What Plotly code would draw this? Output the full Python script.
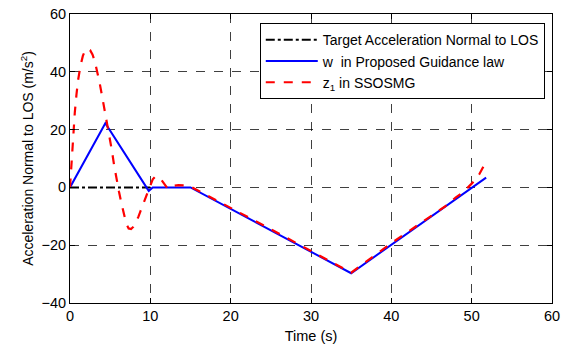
import plotly.graph_objects as go

# Target acceleration
t_target = [0, 10]
a_target = [0, 0]

# w in Proposed Guidance law
t_w = [0, 4.4, 9.8, 10.3, 15, 35, 51.8]
a_w = [0, 22.2, -1.2, 0, 0, -29.7, 3.4]

# z1 in SSOSMG
t_z = [0, 0.2, 0.4, 0.6, 0.8, 1.0, 1.3, 1.6, 1.9, 2.2, 2.5, 2.8, 3.1, 3.4, 3.7, 4.0, 4.3, 4.6,
       4.9, 5.2, 5.5, 5.8, 6.1, 6.4, 6.7, 7.0, 7.3, 7.6, 7.9, 8.2, 8.5, 8.8, 9.1, 9.4, 9.7,
       10.0, 10.3, 10.6, 10.9, 11.2, 11.5, 11.8, 12.1, 12.4, 12.7, 13.0, 13.5, 14.5, 15,
       20, 25, 30, 35, 40, 45, 47, 48, 49, 50, 50.5, 51, 51.5, 51.8]
a_z = [0, 10, 19, 26, 32, 37, 42, 45.5, 47.5, 48, 47.5, 46, 43.5, 40, 36, 31.5, 27, 22.5,
       18, 13, 7.5, 2.5, -1.5, -5.5, -9.5, -12.5, -14.2, -14.4, -13.6, -12.2, -10.3, -8, -5.8, -3.5, -1.2,
       1, 2.8, 3.7, 3.8, 3.3, 2.2, 0.9, -0.2, -0.5, 0.1, 0.6, 0.8, 0.7, 0.3,
       -7, -14.5, -22, -29.5, -19.3, -10, -6, -3.5, -1.5, 1.3, 2.8, 4.8, 7.2, 9]

x_ticks = [0, 10, 20, 30, 40, 50, 60]
y_ticks = [-40, -20, 0, 20, 40, 60]

FONT = "Liberation Sans, Arial, sans-serif"

fig = go.Figure()
fig.add_trace(go.Scatter(x=t_target, y=a_target, mode="lines",
                         name="Target Acceleration Normal to LOS",
                         line=dict(color="black", width=2, dash="dashdot")))
fig.add_trace(go.Scatter(x=t_w, y=a_w, mode="lines",
                         name="w  in Proposed Guidance law",
                         line=dict(color="#0000ff", width=2)))
fig.add_trace(go.Scatter(x=t_z, y=a_z, mode="lines",
                         name="z<sub>1</sub> in SSOSMG",
                         line=dict(color="#ff0000", width=2.2, dash="dash")))

axis_common = dict(showline=True, linecolor="black", linewidth=1, mirror="ticks",
                   ticks="inside", ticklen=5, tickcolor="black", automargin=False,
                   showgrid=True, gridcolor="rgba(0,0,0,0.75)", griddash="dash", gridwidth=1,
                   zeroline=False, tickfont=dict(size=14.5, color="black", family=FONT))

fig.update_xaxes(range=[0, 60], tickvals=x_ticks, **axis_common,
                 title=dict(text="Time (s)", font=dict(size=14.5, color="black", family=FONT), standoff=7))
fig.update_yaxes(range=[-40, 60], tickvals=y_ticks, **axis_common,
                 title=dict(text="Acceleration Normal to LOS (m/s<sup>2</sup>)",
                            font=dict(size=14, color="black", family=FONT), standoff=4))

fig.update_layout(
    width=561, height=345,
    margin=dict(l=70, r=9, t=14, b=42),
    paper_bgcolor="white", plot_bgcolor="white",
    showlegend=True,
    legend=dict(x=0.985, y=0.968, xanchor="right", yanchor="top",
                bgcolor="white", bordercolor="black", borderwidth=1,
                font=dict(size=14, color="black", family=FONT),
                itemwidth=52, tracegroupgap=0),
)

fig.write_html("out.html")
